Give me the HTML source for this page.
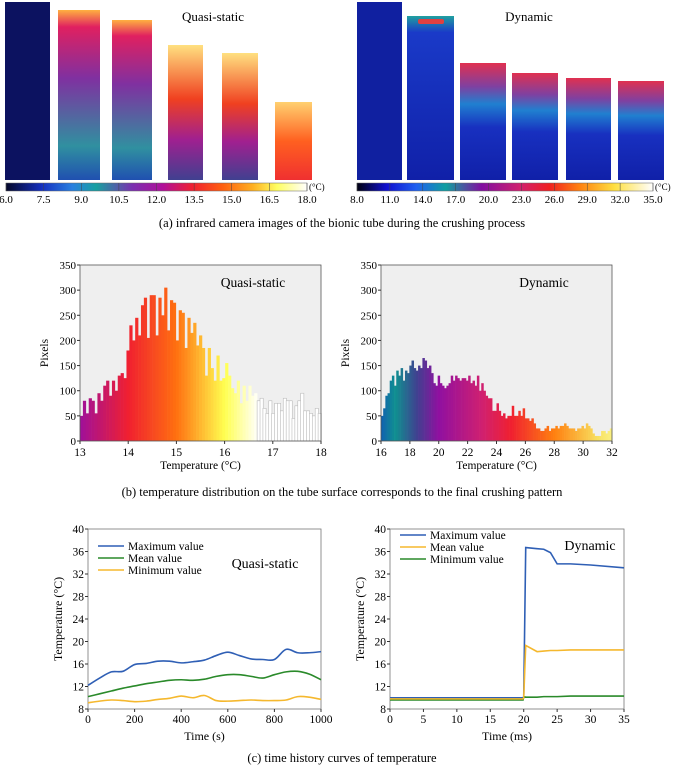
<!DOCTYPE html>
<html><head><meta charset="utf-8"><style>
body{margin:0;background:#fff}
svg{display:block;font-family:"Liberation Serif",serif}
</style></head><body>
<svg id="fig" width="685" height="766" viewBox="0 0 685 766">
<defs>
<linearGradient id="cbL" x1="0" x2="1"><stop offset="0" stop-color="#05082a"/><stop offset="0.12" stop-color="#1530c0"/><stop offset="0.22" stop-color="#2a80e0"/><stop offset="0.3" stop-color="#18a0a0"/><stop offset="0.42" stop-color="#7a30b0"/><stop offset="0.52" stop-color="#b0109a"/><stop offset="0.62" stop-color="#f02030"/><stop offset="0.72" stop-color="#ff6010"/><stop offset="0.82" stop-color="#ffb020"/><stop offset="0.9" stop-color="#ffff60"/><stop offset="1" stop-color="#ffffff"/></linearGradient>
<linearGradient id="cbR" x1="0" x2="1"><stop offset="0" stop-color="#000010"/><stop offset="0.1" stop-color="#1010d0"/><stop offset="0.2" stop-color="#2060f0"/><stop offset="0.3" stop-color="#10a0a0"/><stop offset="0.42" stop-color="#8010a0"/><stop offset="0.55" stop-color="#d02070"/><stop offset="0.65" stop-color="#f02020"/><stop offset="0.75" stop-color="#ff8010"/><stop offset="0.87" stop-color="#ffe040"/><stop offset="1" stop-color="#ffffff"/></linearGradient>
<linearGradient id="tubeQ" x1="0" y1="0" x2="0" y2="1"><stop offset="0" stop-color="#ffb040"/><stop offset="0.1" stop-color="#e02060"/><stop offset="0.4" stop-color="#8030a0"/><stop offset="0.8" stop-color="#3090a0"/><stop offset="1" stop-color="#2050b0"/></linearGradient>
<linearGradient id="tubeQ2" x1="0" y1="0" x2="0" y2="1"><stop offset="0" stop-color="#ffe080"/><stop offset="0.4" stop-color="#f04020"/><stop offset="0.7" stop-color="#a02090"/><stop offset="1" stop-color="#404090"/></linearGradient>
<linearGradient id="tubeQ3" x1="0" y1="0" x2="0" y2="1"><stop offset="0" stop-color="#ffd070"/><stop offset="0.5" stop-color="#ff6020"/><stop offset="1" stop-color="#f03030"/></linearGradient>
<linearGradient id="tubeD" x1="0" y1="0" x2="0" y2="1"><stop offset="0" stop-color="#e03050"/><stop offset="0.2" stop-color="#8040a0"/><stop offset="0.35" stop-color="#2080d0"/><stop offset="0.55" stop-color="#1830c0"/><stop offset="1" stop-color="#1020a8"/></linearGradient>
<linearGradient id="tubeD2" x1="0" y1="0" x2="0" y2="1"><stop offset="0" stop-color="#20a0a0"/><stop offset="0.1" stop-color="#1a3ac8"/><stop offset="1" stop-color="#1020a8"/></linearGradient>
</defs>
<g id="top"></g>
<g id="hist"></g>
<g id="lines"></g>
</svg>
<script>
// ---- histogram data ----
const histQuasi = [50,80,55,85,80,55,95,80,110,120,90,120,100,130,135,125,180,230,200,245,210,270,285,205,290,290,210,285,250,305,220,280,275,200,260,255,185,245,215,235,190,210,185,130,185,145,120,170,120,125,155,130,105,95,120,75,110,80,110,90,95,80,85,65,55,80,55,75,75,60,85,80,80,45,70,80,95,60,60,55,50,65,55];
const histDynamic = [50,65,90,95,120,130,110,140,130,145,120,140,135,150,160,145,140,150,145,165,160,145,150,135,115,110,130,115,110,105,110,115,130,120,130,125,120,125,125,120,130,115,120,110,130,100,115,100,90,85,85,60,60,75,60,50,55,45,50,50,70,50,50,60,50,65,45,45,40,45,35,25,25,20,20,25,30,20,25,25,30,25,30,30,35,30,25,25,25,20,25,25,30,25,35,30,25,15,10,10,10,20,20,15,20,25];
const histQTicks = [13,14,15,16,17,18];
const histDTicks = [16,18,20,22,24,26,28,30,32];
const histYTicks = [0,50,100,150,200,250,300,350];
// ---- line chart data ----
const timeQuasi = [0,50,100,150,200,250,300,350,400,450,500,550,600,650,700,750,800,850,900,950,1000];
const maxQuasi = [12.2,13.5,14.6,14.7,15.9,16.1,16.5,16.5,16.2,16.4,16.7,17.5,18.1,17.5,16.9,16.8,16.8,18.6,18.0,18.0,18.2];
const meanQuasi = [10.2,10.7,11.2,11.7,12.1,12.5,12.8,13.1,13.2,13.1,13.3,13.8,14.1,14.1,13.8,13.5,14.1,14.6,14.7,14.2,13.2];
const minQuasi = [9.1,9.4,9.6,9.5,9.3,9.4,9.7,9.9,10.3,10.0,10.4,9.5,9.4,9.5,9.6,9.5,9.5,9.6,10.2,10.1,9.7];
const timeDyn = [0,19.9,20,20.3,22,23,24,25,27,30,35];
const maxDyn = [10,10,10,36.7,36.5,36.4,35.8,33.8,33.8,33.6,33.1];
const meanDyn = [9.8,9.8,10,19.3,18.2,18.3,18.4,18.4,18.5,18.5,18.5];
const minDyn = [9.6,9.6,10.2,10.1,10.1,10.2,10.2,10.2,10.3,10.3,10.3];
const lineYTicks = [8,12,16,20,24,28,32,36,40];
const quasiXTicks = [0,200,400,600,800,1000];
const dynXTicks = [0,5,10,15,20,25,30,35];
const cbLTicks = ["6.0","7.5","9.0","10.5","12.0","13.5","15.0","16.5","18.0"];
const cbRTicks = ["8.0","11.0","14.0","17.0","20.0","23.0","26.0","29.0","32.0","35.0"];

const NS="http://www.w3.org/2000/svg";
function mk(parent,tag,attrs,text){const e=document.createElementNS(NS,tag);for(const k in attrs)e.setAttribute(k,attrs[k]);if(text!==undefined)e.textContent=text;parent.appendChild(e);return e;}

// ---- top panel ----
const topG=document.getElementById('top');
const tubes=[[5,2,45,178,'#0c1260'],[58,10,42,170,'url(#tubeQ)'],[112,20,40,160,'url(#tubeQ)'],[168,45,35,135,'url(#tubeQ2)'],[222,53,36,127,'url(#tubeQ2)'],[275,102,37,78,'url(#tubeQ3)'],
[357,2,45,178,'#1020a0'],[407,16,47,164,'url(#tubeD2)'],[460,63,46,117,'url(#tubeD)'],[512,73,46,107,'url(#tubeD)'],[566,78,45,102,'url(#tubeD)'],[618,81,46,99,'url(#tubeD)']];
tubes.forEach((t,i)=>{const r=mk(topG,'rect',{x:t[0],y:t[1],width:t[2],height:t[3],fill:t[4]});

});
const blob=mk(topG,'rect',{x:418,y:19,width:26,height:5,fill:'#e04040',rx:2});

let tt=mk(topG,'text',{x:213,y:21,'font-size':13,'text-anchor':'middle'},'Quasi-static');

tt=mk(topG,'text',{x:529,y:21,'font-size':13,'text-anchor':'middle'},'Dynamic');

function colorbar(x0,x1,fill,ticks,name){
 const r=mk(topG,'rect',{x:x0,y:183,width:x1-x0,height:8,fill:fill,stroke:'#666','stroke-width':0.5});
 
 ticks.forEach((t,i)=>{const x=x0+(x1-x0)*i/(ticks.length-1);
  mk(topG,'line',{x1:x,x2:x,y1:183,y2:191,stroke:'#444','stroke-width':0.5});
  const l=mk(topG,'text',{x:x,y:203,'font-size':11,'text-anchor':'middle'},t);
  });
 mk(topG,'text',{x:x1+2,y:190,'font-size':9},'(°C)');
}
colorbar(6,307,'url(#cbL)',cbLTicks,'colorbar-quasi');
colorbar(357,653,'url(#cbR)',cbRTicks,'colorbar-dynamic');
tt=mk(topG,'text',{x:342,y:227,'font-size':12.5,'text-anchor':'middle'},'(a) infrared camera images of the bionic tube during the crushing process');


// ---- histograms ----
const histG=document.getElementById('hist');
function lerpColor(stops,v){for(let i=0;i<stops.length-1;i++){if(v<=stops[i+1][0]){const a=stops[i],b=stops[i+1];const f=(v-a[0])/(b[0]-a[0]);
 const c=a[1].map((c0,k)=>Math.round(c0+(b[1][k]-c0)*f));return 'rgb('+c.join(',')+')';}}const l=stops[stops.length-1][1];return 'rgb('+l.join(',')+')';}
const qStops=[[13,[160,16,154]],[14,[240,32,48]],[15,[255,112,16]],[16,[255,255,80]],[16.7,[255,255,255]],[18,[255,255,255]]];
const dStops=[[16,[16,96,176]],[17,[16,144,144]],[18.5,[64,64,144]],[20,[144,16,160]],[23,[208,32,112]],[25,[240,32,48]],[28,[255,128,16]],[31,[248,224,96]],[32,[250,240,130]]];
function histogram(vals,xmin,xmax,ticks,x0,x1,label,stops,name){
 const y0=441,y1=265;
 const g=mk(histG,'g',{});
 const sx=v=>x0+(v-xmin)/(xmax-xmin)*(x1-x0), sy=v=>y0-(v/350)*(y0-y1);
 mk(g,'rect',{x:x0,y:y1,width:x1-x0,height:y0-y1,fill:'#efefef'});
 const w=(xmax-xmin)/vals.length;
 vals.forEach((v,i)=>{const t=xmin+(i+0.5)*w;const b=mk(g,'rect',{x:sx(xmin+i*w),y:sy(v),width:(x1-x0)/vals.length+0.3,height:y0-sy(v),fill:lerpColor(stops,t),stroke:(t>16.7&&stops===qStops)?'#bbb':'none','stroke-width':0.6});
  });
 mk(g,'rect',{x:x0,y:y1,width:x1-x0,height:y0-y1,fill:'none',stroke:'#555','stroke-width':0.8});
 histYTicks.forEach(t=>{const y=sy(t);mk(g,'line',{x1:x0,x2:x0-3,y1:y,y2:y,stroke:'#333'});
  const l=mk(g,'text',{x:x0-4,y:y+4,'font-size':11,'text-anchor':'end'},t);});
 ticks.forEach(t=>{const x=sx(t);mk(g,'line',{x1:x,x2:x,y1:y0,y2:y0+3,stroke:'#333'});
  const l=mk(g,'text',{x:x,y:y0+15,'font-size':11.5,'text-anchor':'middle'},t);});
 let l=mk(g,'text',{x:(x0+x1)/2,y:469,'font-size':11.5,'text-anchor':'middle'},'Temperature (°C)');
 l=mk(g,'text',{x:0,y:0,'font-size':11.5,'text-anchor':'middle',transform:`translate(${x0-32},353) rotate(-90)`},'Pixels');
 l=mk(g,'text',{x:x1-68,y:287,'font-size':13.5,'text-anchor':'middle'},label);
}
histogram(histQuasi,13,18,histQTicks,80,321,'Quasi-static',qStops,'histogram-quasi');
histogram(histDynamic,16,32,histDTicks,381,612,'Dynamic',dStops,'histogram-dynamic');
tt=mk(histG,'text',{x:342,y:496,'font-size':12.5,'text-anchor':'middle'},'(b) temperature distribution on the tube surface corresponds to the final crushing pattern');


// ---- line charts ----
const linesG=document.getElementById('lines');
const C={max:'#2f5fb5',mean:'#2a8a2a',min:'#f5b82e'};
function smoothPath(pts){let d='M'+pts[0][0]+','+pts[0][1];for(let i=0;i<pts.length-1;i++){const p0=pts[Math.max(i-1,0)],p1=pts[i],p2=pts[i+1],p3=pts[Math.min(i+2,pts.length-1)];
 d+=` C${p1[0]+(p2[0]-p0[0])/6},${p1[1]+(p2[1]-p0[1])/6} ${p2[0]-(p3[0]-p1[0])/6},${p2[1]-(p3[1]-p1[1])/6} ${p2[0]},${p2[1]}`;}return d;}
function lineChart(x0,x1,xmax,xticks,times,series,xlabel,label,labelX,legend,name,smooth){
 const y0=709,y1=529;
 const g=mk(linesG,'g',{});
 const sx=v=>x0+v/xmax*(x1-x0), sy=v=>y0-(v-8)/32*(y0-y1);
 mk(g,'rect',{x:x0,y:y1,width:x1-x0,height:y0-y1,fill:'none',stroke:'#777','stroke-width':0.8});
 lineYTicks.forEach(t=>{const y=sy(t);mk(g,'line',{x1:x0,x2:x0-3,y1:y,y2:y,stroke:'#333'});
  const l=mk(g,'text',{x:x0-4,y:y+4,'font-size':11.5,'text-anchor':'end'},t);});
 xticks.forEach(t=>{const x=sx(t);mk(g,'line',{x1:x,x2:x,y1:y0,y2:y0+3,stroke:'#333'});
  const l=mk(g,'text',{x:x,y:y0+14,'font-size':11.5,'text-anchor':'middle'},t);});
 let l=mk(g,'text',{x:(x0+x1)/2,y:740,'font-size':12,'text-anchor':'middle'},xlabel);
 l=mk(g,'text',{x:0,y:0,'font-size':12,'text-anchor':'middle',transform:`translate(${x0-26},619) rotate(-90)`},'Temperature (°C)');
 series.forEach(s=>{const pts=times.map((t,i)=>[sx(t),sy(s.v[i])]);
  const p=mk(g,'path',{d:smooth?smoothPath(pts):'M'+pts.map(p=>p.join(',')).join(' L'),fill:'none',stroke:s.c,'stroke-width':1.6});
  });
 legend.forEach((s,i)=>{const y=legend.y+i*12;mk(g,'line',{x1:legend.x,x2:legend.x+26,y1:y,y2:y,stroke:s.c,'stroke-width':1.6});
  const t=mk(g,'text',{x:legend.x+30,y:y+4,'font-size':11.5},s.t);});
 l=mk(g,'text',{x:labelX,y:label[1],'font-size':14,'text-anchor':'middle'},label[0]);
}
const legQ=[{c:C.max,t:'Maximum value'},{c:C.mean,t:'Mean value'},{c:C.min,t:'Minimum value'}];legQ.x=98;legQ.y=546;
lineChart(88,321,1000,quasiXTicks,timeQuasi,[{v:minQuasi,c:C.min,n:'minimum'},{v:meanQuasi,c:C.mean,n:'mean'},{v:maxQuasi,c:C.max,n:'maximum'}],'Time (s)',['Quasi-static',568],265,legQ,'line-chart-quasi',true);
const legD=[{c:C.max,t:'Maximum value'},{c:C.min,t:'Mean value'},{c:C.mean,t:'Minimum value'}];legD.x=400;legD.y=535;
lineChart(390,624,35,dynXTicks,timeDyn,[{v:minDyn,c:C.mean,n:'minimum'},{v:maxDyn,c:C.max,n:'maximum'},{v:meanDyn,c:C.min,n:'mean'}],'Time (ms)',['Dynamic',550],590,legD,'line-chart-dynamic',false);
tt=mk(linesG,'text',{x:342,y:762,'font-size':12.5,'text-anchor':'middle'},'(c) time history curves of temperature');

</script>
</body></html>
